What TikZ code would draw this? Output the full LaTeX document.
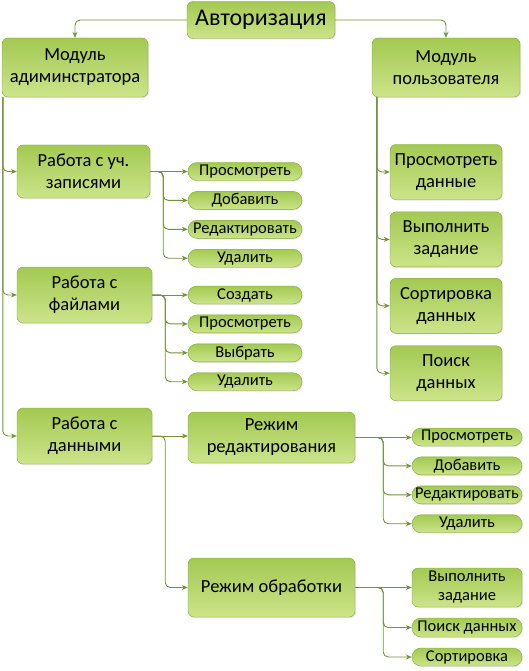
\documentclass[tikz,border=0pt]{standalone}
\usepackage{fontspec}
\setmainfont{Carlito}
\usetikzlibrary{positioning,arrows.meta,shadows}
\definecolor{grn1}{RGB}{163,201,82}
\definecolor{grn2}{RGB}{204,228,138}
\definecolor{grnline}{RGB}{116,146,58}
\definecolor{grnedge}{RGB}{128,168,58}
\tikzstyle{topbox} = [rectangle, rounded corners=6pt, draw=grnedge, top color=grn1, bottom color=grn2,
    drop shadow={opacity=0.2, shadow xshift=1pt, shadow yshift=-1pt},
    minimum width=148pt, minimum height=37pt, font=\fontsize{24}{26}\selectfont]
\tikzstyle{modbox} = [rectangle, rounded corners=6pt, draw=grnedge, top color=grn1, bottom color=grn2,
    drop shadow={opacity=0.2, shadow xshift=1pt, shadow yshift=-1pt},
    align=center, inner sep=1pt, font=\fontsize{18.5}{22}\selectfont]
\tikzstyle{pill} = [rectangle, rounded corners=9pt, draw=grnedge, top color=grn1, bottom color=grn2,
    drop shadow={opacity=0.2, shadow xshift=1pt, shadow yshift=-1pt},
    align=center, inner sep=1pt, font=\fontsize{16.5}{18}\selectfont]
\tikzstyle{arrow} = [draw=grnline, line width=0.9pt, rounded corners=5pt, -{Stealth[length=6pt,width=5pt]}]

\begin{document}
\begin{tikzpicture}[x=1pt, y=-1pt, node distance=10.5pt]
    \useasboundingbox (0,0) rectangle (529,671);
    % upper level
    \node (auth) [topbox] at (261,20) {Авторизация};
    \node (madm) [modbox, minimum width=146pt, minimum height=59pt] at (75,67.5) {Модуль\\адиминстратора};
    \node (musr) [modbox, minimum width=148pt, minimum height=59pt] at (446,67.5) {Модуль\\пользователя};

    % admin branch
    \node (uch) [modbox, minimum width=133pt, minimum height=53pt] at (83.5,171.5) {Работа с уч.\\записями};
    \node (fil) [modbox, minimum width=135pt, minimum height=56pt] at (84.5,295) {Работа с\\файлами};
    \node (dat) [modbox, minimum width=135pt, minimum height=56pt] at (84.5,436) {Работа с\\данными};

    \node (uview) [pill, minimum width=114pt, minimum height=18pt] at (245,171.5) {Просмотреть};
    \node (uadd) [pill, minimum width=114pt, minimum height=18pt, below=of uview] {Добавить};
    \node (uedit) [pill, minimum width=114pt, minimum height=18pt, below=of uadd] {Редактировать};
    \node (udel) [pill, minimum width=114pt, minimum height=18pt, below=of uedit] {Удалить};

    \node (fnew) [pill, minimum width=114pt, minimum height=18pt] at (245,295) {Создать};
    \node (fview) [pill, minimum width=114pt, minimum height=18pt, below=of fnew] {Просмотреть};
    \node (fsel) [pill, minimum width=114pt, minimum height=18pt, below=of fview] {Выбрать};
    \node (fdel) [pill, minimum width=114pt, minimum height=18pt, below=of fsel] {Удалить};

    \node (red) [modbox, minimum width=167pt, minimum height=51pt] at (271.5,437.5) {Режим\\редактирования};
    \node (obr) [modbox, minimum width=167pt, minimum height=59pt] at (271.5,587.5) {Режим обработки};

    \node (rview) [pill, minimum width=110pt, minimum height=18pt] at (467,437) {Просмотреть};
    \node (radd) [pill, minimum width=110pt, minimum height=18pt, below=of rview] {Добавить};
    \node (redit) [pill, minimum width=110pt, minimum height=18pt, below=of radd] {Редактировать};
    \node (rdel) [pill, minimum width=110pt, minimum height=18pt, below=of redit] {Удалить};

    \node (otask) [pill, rounded corners=6pt, minimum width=110pt, minimum height=39pt,
        font=\fontsize{16.5}{19}\selectfont] at (467,587.5) {Выполнить\\задание};
    \node (ofind) [pill, minimum width=110pt, minimum height=19pt] at (467,627.5) {Поиск данных};
    \node (osort) [pill, minimum width=110pt, minimum height=18pt] at (467,657) {Сортировка};

    % user branch
    \node (sview) [modbox, minimum width=112pt, minimum height=55pt] at (446,172) {Просмотреть\\данные};
    \node (stask) [modbox, minimum width=112pt, minimum height=55pt, below=12pt of sview] {Выполнить\\задание};
    \node (ssort) [modbox, minimum width=112pt, minimum height=55pt, below=11pt of stask] {Сортировка\\данных};
    \node (sfind) [modbox, minimum width=112pt, minimum height=55pt, below=12pt of ssort] {Поиск\\данных};

    % trunks
    \coordinate (lt) at ([xshift=1pt] madm.south west);
    \coordinate (rt) at ([xshift=5pt] musr.south west);

    % Arrows
    \draw [arrow] (auth.west) -| (madm.north);
    \draw [arrow] (auth.east) -| (musr.north);

    \draw [arrow] (lt) |- (uch.west);
    \draw [arrow] (lt) |- (fil.west);
    \draw [arrow] (lt) |- (dat.west);

    \draw [arrow] (uch.east) -- (uview.west);
    \draw [arrow] (uch.east) -- ++(13,0) |- (uadd.west);
    \draw [arrow] (uch.east) -- ++(13,0) |- (uedit.west);
    \draw [arrow] (uch.east) -- ++(13,0) |- (udel.west);

    \draw [arrow] (fil.east) -- (fnew.west);
    \draw [arrow] (fil.east) -- ++(13,0) |- (fview.west);
    \draw [arrow] (fil.east) -- ++(13,0) |- (fsel.west);
    \draw [arrow] (fil.east) -- ++(13,0) |- (fdel.west);

    \draw [arrow] (dat.east) -- (dat.east -| red.west);
    \draw [arrow] (dat.east) -- ++(13,0) |- (obr.west);

    \draw [arrow] (red.east) -- (red.east -| rview.west);
    \draw [arrow] (red.east) -- ++(28,0) |- (radd.west);
    \draw [arrow] (red.east) -- ++(28,0) |- (redit.west);
    \draw [arrow] (red.east) -- ++(28,0) |- (rdel.west);

    \draw [arrow] (obr.east) -- (otask.west);
    \draw [arrow] (obr.east) -- ++(28,0) |- (ofind.west);
    \draw [arrow] (obr.east) -- ++(28,0) |- (osort.west);

    \draw [arrow] (rt) |- (sview.west);
    \draw [arrow] (rt) |- (stask.west);
    \draw [arrow] (rt) |- (ssort.west);
    \draw [arrow] (rt) |- (sfind.west);
\end{tikzpicture}
\end{document}
